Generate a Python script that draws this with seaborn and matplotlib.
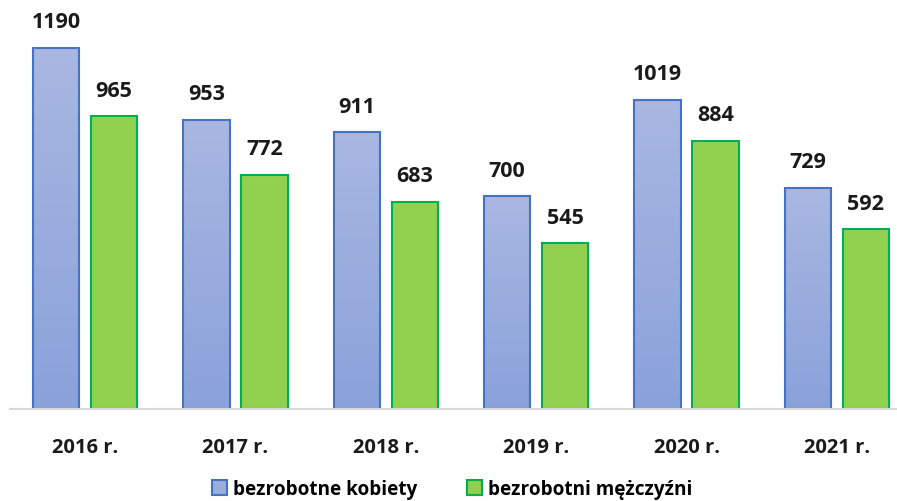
import pandas as pd
import seaborn as sns
import matplotlib.pyplot as plt
import numpy as np
from matplotlib.patches import Patch
from matplotlib.colors import LinearSegmentedColormap

# data
years = ['2016 r.', '2017 r.', '2018 r.', '2019 r.', '2020 r.', '2021 r.']
kobiety = [1190, 953, 911, 700, 1019, 729]
mezczyzni = [965, 772, 683, 545, 884, 592]
series = ['bezrobotne kobiety', 'bezrobotni mężczyźni']

df = pd.DataFrame({
    'rok': years * 2,
    'liczba': kobiety + mezczyzni,
    'grupa': [series[0]] * len(years) + [series[1]] * len(years),
})

FONT = ['Open Sans', 'DejaVu Sans']
plt.rcParams['font.family'] = FONT

fig = plt.figure(figsize=(8.97, 5.02), dpi=100)
ax = fig.add_axes([10 / 897, 92 / 502, 902 / 897, 410 / 502])

sns.barplot(data=df, x='rok', y='liczba', hue='grupa', ax=ax,
            palette=['#9BAEDB', '#92D050'], saturation=1,
            width=0.772, gap=0.2, legend=False)

# blue bars get a vertical gradient, green stay flat
grad = LinearSegmentedColormap.from_list('g', ['#8AA2DA', '#A9B7E1'])
n = len(years)
for i, p in enumerate(ax.patches[:2 * n]):
    if i < n:
        p.set_edgecolor('#4472C4')
        p.set_linewidth(1.5)
        x0, w, h = p.get_x(), p.get_width(), p.get_height()
        img = ax.imshow(np.linspace(0, 1, 256).reshape(-1, 1), cmap=grad,
                        origin='lower', aspect='auto',
                        extent=[x0, x0 + w, 0, h], zorder=p.get_zorder())
        img.set_clip_path(p)
        p.set_facecolor('none')
        p.set_zorder(p.get_zorder() + 0.1)
    else:
        p.set_edgecolor('#00B050')
        p.set_linewidth(1.5)
    ax.annotate(f'{int(p.get_height())}', (p.get_x() + p.get_width() / 2, p.get_height()),
                xytext=(0, 11), textcoords='offset points', ha='center', va='bottom',
                fontsize=15.5, fontweight='bold', color='#1a1a1a')

ax.set_xlim(-0.5, 5.5)
ax.set_ylim(0, 1350)

for s in ['top', 'right', 'left']:
    ax.spines[s].set_visible(False)
ax.spines['bottom'].set_color('#D9D9D9')
ax.spines['bottom'].set_linewidth(1.5)
ax.set_yticks([])
ax.tick_params(axis='x', length=0, pad=20)
for lbl in ax.get_xticklabels():
    lbl.set_fontsize(14.5)
    lbl.set_fontweight('bold')
    lbl.set_color('#1a1a1a')
ax.set_xlabel('')
ax.set_ylabel('')

handles = [Patch(facecolor='#9BAEDB', edgecolor='#4472C4', linewidth=1.5, label=series[0]),
           Patch(facecolor='#92D050', edgecolor='#00B050', linewidth=1.5, label=series[1])]
fig.legend(handles=handles, loc='center', bbox_to_anchor=(452 / 897, 1 - 490 / 502),
           ncol=2, frameon=False, handlelength=0.8, handleheight=0.8,
           handletextpad=0.3, columnspacing=2.6,
           prop={'family': FONT, 'size': 13.7, 'weight': 'bold'})

plt.savefig('out.png', dpi=100)
